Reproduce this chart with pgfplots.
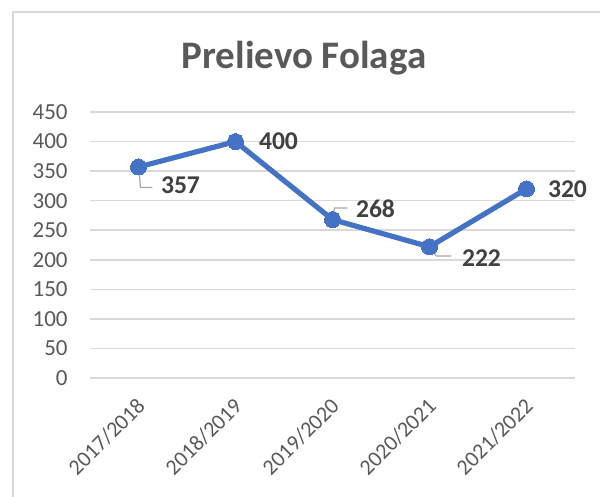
\documentclass[border=0pt]{standalone}
\usepackage{pgfplots}
\pgfplotsset{compat=1.18}
\usepackage{pgfplotstable}
\usepackage{fontspec}
\setmainfont{Carlito}
\definecolor{lineblue}{HTML}{4472C4}
\definecolor{gridgray}{HTML}{D9D9D9}
\definecolor{txtgray}{HTML}{595959}
\definecolor{lblgray}{HTML}{404040}
\definecolor{leadgray}{HTML}{A6A6A6}
\pgfplotstableread{
x y lx ly
0 357 21 -9.25
1 400 21.5 0.3
2 268 21.5 5.3
3 222 26 -5.6
4 320 20.5 0
}\data
\begin{document}
\begin{tikzpicture}
\useasboundingbox (0,0) rectangle (300pt,-248.5pt);
\draw[gridgray, line width=0.6pt] (6.5pt,-260pt) -- (6.5pt,-6pt) -- (310pt,-6pt);
\node[anchor=base, font=\fontsize{19.5}{23}\selectfont\bfseries, text=txtgray, inner sep=0pt] at (152pt,-34.5pt) {Prelievo Folaga};
\begin{axis}[
  at={(45pt,-189pt)}, anchor=south west,
  scale only axis, width=242.5pt, height=133pt,
  xmin=-0.5, xmax=4.5, ymin=0, ymax=450,
  ytick={0,50,...,450}, xtick={0,...,4},
  xticklabels={2017/2018,2018/2019,2019/2020,2020/2021,2021/2022},
  ymajorgrids, grid style={gridgray, line width=0.75pt},
  axis line style={draw=none}, major tick length=0pt, tick style={draw=none},
  ticklabel style={font=\fontsize{11.5}{13}\selectfont, text=txtgray},
  /pgf/number format/assume math mode=true,
  yticklabel style={anchor=east, inner sep=0pt, xshift=-11pt},
  xticklabel style={xshift=1.5pt, rotate=45, anchor=east, inner sep=0pt, font=\fontsize{11}{13}\selectfont},
  xticklabel shift=12pt,
  clip=false,
]
\addplot[lineblue, line width=2.6pt, mark=*, mark size=4pt,
  mark options={fill=lineblue, draw=lineblue, line width=0pt},
  nodes near coords, point meta=explicit,
  visualization depends on={\thisrow{lx} \as \lx},
  visualization depends on={\thisrow{ly} \as \ly},
  nodes near coords style={anchor=center, xshift=\lx pt, yshift=\ly pt,
    font=\fontsize{12.8}{15}\selectfont\bfseries, text=lblgray, inner sep=0pt}]
  table[x=x, y=y, meta=y] {\data};
\draw[leadgray, line width=0.6pt] (axis cs:0,357) -- ++(1pt,-10.25pt) -- ++(6pt,0pt);
\draw[leadgray, line width=0.6pt] (axis cs:2,268) -- ++(1pt,5.8pt) -- ++(6.5pt,0pt);
\draw[leadgray, line width=0.6pt] (axis cs:3,222) -- ++(3.5pt,-4.6pt) -- ++(7.5pt,0pt);
\end{axis}
\end{tikzpicture}
\end{document}
